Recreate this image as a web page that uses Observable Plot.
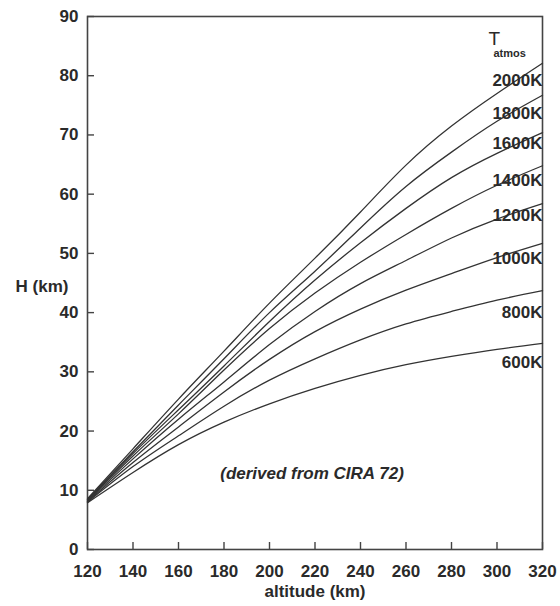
<!DOCTYPE html>
<html>
<head>
<meta charset="utf-8">
<script src="https://cdn.jsdelivr.net/npm/d3@7"></script>
<script src="https://cdn.jsdelivr.net/npm/@observablehq/plot@0.6"></script>
<style>
  html, body { margin: 0; padding: 0; background: #fff; }
  #chart svg { display: block; }
</style>
</head>
<body>
<div id="chart"></div>
<script>
// Altitude grid (km)
const altitude = [120, 140, 160, 180, 200, 220, 240, 260, 280, 300, 320];
// Scale height H (km) per exospheric temperature
const h2000 = [8.6, 17.0, 25.4, 33.5, 41.6, 49.2, 57.0, 64.9, 71.5, 77.0, 82.1];
const h1800 = [8.5, 16.5, 24.4, 32.2, 40.0, 47.0, 54.3, 61.3, 67.1, 72.3, 76.7];
const h1600 = [8.4, 16.2, 23.6, 31.0, 38.5, 45.5, 51.8, 57.6, 62.8, 66.9, 70.4];
const h1400 = [8.3, 15.8, 22.9, 30.3, 37.3, 43.3, 48.5, 53.2, 57.6, 61.5, 64.8];
const h1200 = [8.2, 15.3, 22.0, 28.3, 34.6, 40.2, 44.9, 48.8, 52.6, 55.8, 58.4];
const h1000 = [8.1, 14.7, 20.7, 26.6, 32.1, 36.8, 40.6, 43.8, 46.6, 49.3, 51.7];
const h800  = [8.0, 14.0, 19.2, 24.2, 28.6, 32.2, 35.4, 38.1, 40.2, 42.1, 43.7];
const h600  = [7.9, 13.0, 17.7, 21.5, 24.6, 27.2, 29.4, 31.2, 32.6, 33.8, 34.8];

const seriesNames = ["2000K", "1800K", "1600K", "1400K", "1200K", "1000K", "800K", "600K"];
const seriesValues = [h2000, h1800, h1600, h1400, h1200, h1000, h800, h600];
// Where each curve label sits (H value at the right edge)
const labelH = [79.2, 73.6, 68.6, 62.3, 56.4, 49.1, 40.0, 31.6];

const xTicks = [120, 140, 160, 180, 200, 220, 240, 260, 280, 300, 320];
const yTicks = [0, 10, 20, 30, 40, 50, 60, 70, 80, 90];

const xLabel = "altitude (km)";
const yLabel = "H (km)";
const note = "(derived from CIRA 72)";
const legendTitle = "T";
const legendSub = "atmos";

const rows = [];
seriesNames.forEach((name, i) => {
  altitude.forEach((a, j) => rows.push({series: name, alt: a, h: seriesValues[i][j]}));
});
const labels = seriesNames.map((name, i) => ({series: name, alt: 320, h: labelH[i]}));

const ink = "#2a2a2a";
const font = "'Liberation Sans', Arial, Helvetica, sans-serif";

const W = 560, H = 606, mL = 87, mR = 18, mT = 16, mB = 57;
const tickLen = 7;
const innerW = W - mL - mR;
const innerH = H - mT - mB;

const chart = Plot.plot({
  width: W,
  height: H,
  marginLeft: mL,
  marginRight: mR,
  marginTop: mT,
  marginBottom: mB,
  style: {fontFamily: font, fontSize: "17px", fontWeight: "bold", color: ink, background: "#fff"},
  x: {domain: [120, 320]},
  y: {domain: [0, 90]},
  marks: [
    Plot.frame({stroke: "#444", strokeWidth: 1.6}),
    Plot.axisX(xTicks, {anchor: "bottom", tickSize: 0, tickPadding: 15, label: null}),
    Plot.axisY(yTicks, {anchor: "left", tickSize: 0, tickPadding: 9, label: null}),
    // inward tick marks
    Plot.tickX(xTicks, {x: d => d, insetTop: innerH - tickLen, stroke: "#444", strokeWidth: 1.4}),
    Plot.tickY(yTicks, {y: d => d, insetRight: innerW - tickLen, stroke: "#444", strokeWidth: 1.4}),
    Plot.line(rows, {x: "alt", y: "h", z: "series", stroke: "#333", strokeWidth: 1.3, curve: "natural"}),
    Plot.text(labels, {x: "alt", y: "h", text: "series", textAnchor: "end", dx: 0, fill: ink, fontSize: 17, fontWeight: "bold", style: "letter-spacing:1px"}),
    Plot.text([legendTitle], {frameAnchor: "top-right", text: d => d, textAnchor: "start", dx: -54, dy: 15, fontSize: 19, fontWeight: "normal", fill: ink}),
    Plot.text([legendSub], {frameAnchor: "top-right", text: d => d, textAnchor: "start", dx: -49, dy: 33, fontSize: 11, fontWeight: "bold", fill: ink, style: "letter-spacing:1.2px"}),
    Plot.text([note], {frameAnchor: "bottom", text: d => d, dx: -3, dy: -71, fontSize: 17, fontWeight: "bold", fontStyle: "italic", fill: ink, style: "letter-spacing:1.5px"}),
    Plot.text([yLabel], {frameAnchor: "left", text: d => d, textAnchor: "end", dx: -19, dy: 4, fontSize: 17, fontWeight: "bold", fill: ink, style: "letter-spacing:1px"}),
    Plot.text([xLabel], {frameAnchor: "bottom", text: d => d, dy: 47, fontSize: 17, fontWeight: "bold", fill: ink, style: "letter-spacing:1px"})
  ]
});
document.getElementById("chart").appendChild(chart);
</script>
</body>
</html>
